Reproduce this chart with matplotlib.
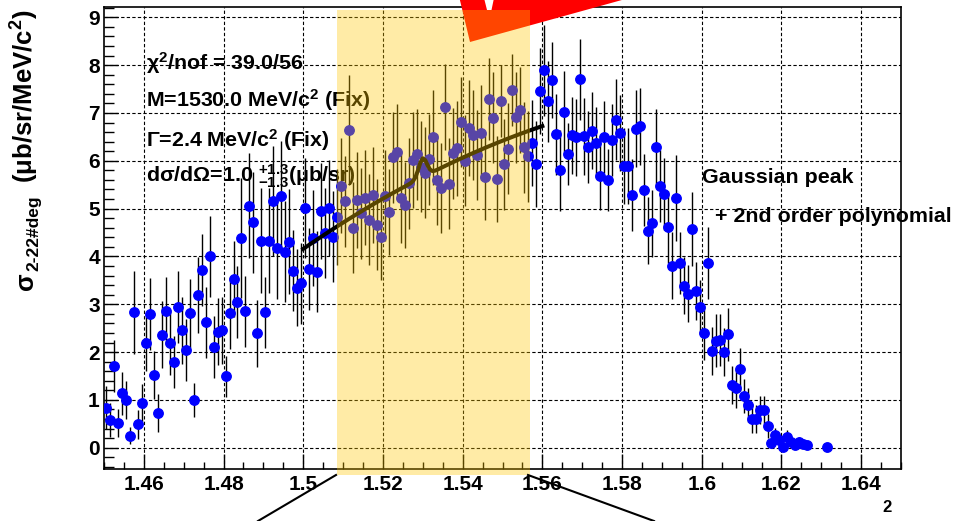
import numpy as np
import matplotlib.pyplot as plt
import matplotlib.transforms as mtransforms
from matplotlib.lines import Line2D
from matplotlib.patches import Polygon, Rectangle
from matplotlib.ticker import FormatStrFormatter, MultipleLocator

plt.rcParams["font.family"] = ["Liberation Sans", "DejaVu Sans"]
plt.rcParams["font.weight"] = "bold"
plt.rcParams["mathtext.fontset"] = "custom"
plt.rcParams["mathtext.rm"] = "Liberation Sans:bold"
plt.rcParams["mathtext.bf"] = "Liberation Sans:bold"
plt.rcParams["mathtext.it"] = "Liberation Sans:bold"
plt.rcParams["mathtext.default"] = "rm"

# histogram binning (GeV/c^2)
BIN_LOW = 1.450
BIN_WIDTH = 0.001

# d2sigma/dOmega dM per bin (ub/sr/MeV/c^2); nan = empty bin
sigma = [
    0.84, 0.58, 1.71, 0.52, 1.14, 1.00, 0.25, 2.83, 0.49, 0.94,
    2.20, 2.80, 1.52, 0.72, 2.36, 2.86, 2.18, 1.79, 2.94, 2.46,
    2.04, 2.81, 1.00, 3.19, 3.72, 2.62, 4.00, 2.10, 2.43, 2.46,
    1.49, 2.81, 3.53, 3.04, 4.38, 2.85, 5.06, 4.71, 2.39, 4.33,
    2.83, 4.33, 5.16, 4.17, 5.27, 4.10, 4.31, 3.70, 3.35, 3.44,
    5.01, 3.74, 4.38, 3.68, 4.95, 4.49, 5.01, 4.41, 4.83, 5.48,
    5.15, 6.64, 4.60, 5.18, 4.90, 5.23, 4.77, 5.29, 4.66, 4.41,
    5.27, 4.92, 6.07, 6.19, 5.23, 5.08, 5.53, 6.02, 6.14, 5.88,
    5.75, 6.03, 6.49, 5.60, 5.43, 7.12, 5.52, 6.16, 6.26, 6.81,
    6.00, 6.68, 6.54, 6.12, 6.59, 5.67, 7.29, 6.90, 5.61, 7.25,
    5.93, 6.25, 7.48, 6.91, 7.06, 6.28, 6.09, 6.37, 5.94, 7.46,
    7.89, 7.24, 7.69, 6.55, 5.80, 7.03, 6.15, 6.53, 6.49, 7.70,
    6.51, 6.29, 6.63, 6.38, 5.68, 6.49, 5.60, 6.44, 6.86, 6.58,
    5.89, 5.89, 5.29, 6.67, 6.72, 5.39, 4.54, 4.69, 6.28, 5.47,
    5.31, 4.62, 3.81, 5.22, 3.87, 3.39, 3.22, 4.57, 3.28, 2.95,
    2.39, 3.87, 2.02, 2.24, 2.25, 2.01, 2.37, 1.31, 1.24, 1.64,
    1.08, 0.89, 0.61, 0.60, 0.79, 0.79, 0.46, 0.09, 0.27, 0.16,
    0.01, 0.22, 0.13, 0.06, 0.13, 0.07, 0.05, np.nan, np.nan, np.nan,
    np.nan, 0.01,
]
sigma_err = [
    0.45, 0.35, 0.55, 0.30, 0.45, 0.40, 0.18, 0.87, 0.30, 0.40,
    0.60, 0.75, 0.50, 0.40, 0.70, 0.72, 0.65, 0.55, 0.75, 0.70,
    0.65, 0.72, 0.35, 0.80, 0.75, 0.75, 0.84, 0.65, 0.70, 0.70,
    0.42, 0.75, 0.80, 0.75, 1.25, 0.75, 1.10, 1.05, 0.70, 1.10,
    0.75, 1.10, 1.15, 1.05, 1.15, 1.05, 1.10, 0.85, 0.80, 0.85,
    1.05, 0.85, 1.00, 0.85, 1.00, 0.95, 1.00, 0.95, 1.00, 1.00,
    0.95, 1.15, 0.95, 1.00, 0.95, 1.00, 0.95, 1.00, 0.95, 0.90,
    0.95, 0.90, 0.95, 1.00, 0.95, 0.90, 0.95, 1.00, 0.95, 0.95,
    0.95, 0.95, 1.00, 0.95, 0.95, 0.90, 0.95, 0.95, 1.00, 0.95,
    0.95, 1.00, 0.95, 0.95, 1.00, 0.90, 0.85, 0.95, 0.90, 0.75,
    0.95, 0.95, 0.75, 0.95, 0.90, 0.95, 0.95, 0.90, 0.90, 0.90,
    0.95, 0.85, 0.80, 0.85, 0.85, 0.85, 0.65, 0.80, 0.80, 0.85,
    0.80, 0.75, 0.80, 0.75, 0.70, 0.75, 0.65, 0.75, 0.85, 0.80,
    0.80, 0.80, 0.75, 0.80, 0.80, 0.75, 0.70, 0.70, 0.80, 0.75,
    0.75, 0.75, 0.70, 0.90, 0.65, 0.60, 0.60, 0.77, 0.60, 0.55,
    0.55, 0.75, 0.50, 0.55, 0.55, 0.50, 0.55, 0.40, 0.40, 0.45,
    0.35, 0.35, 0.30, 0.30, 0.30, 0.30, 0.25, 0.10, 0.15, 0.10,
    0.05, 0.15, 0.10, 0.05, 0.10, 0.05, 0.05, np.nan, np.nan, np.nan,
    np.nan, 0.05,
]

# fit: gaussian peak (fixed M, Gamma) + 2nd order polynomial in (m - M)
FIT_RANGE = (1.500, 1.560)
PEAK_MASS = 1.5300
PEAK_WIDTH_MEV = 2.4
PEAK_YIELD = 1.0
POLY_COEF = [5.66, 42.8, -243.0]

# shaded window and panel texts
BAND = (1.5085, 1.5569)
fit_lines = [
    r"$\chi^{2}$/nof = 39.0/56",
    r"M=1530.0 MeV/c$^{2}$ (Fix)",
    r"Γ=2.4 MeV/c$^{2}$ (Fix)",
    r"dσ/dΩ=1.0 $^{+1.3}_{-1.3}$(μb/sr)",
]

x = BIN_LOW + BIN_WIDTH * (np.arange(len(sigma)) + 0.5)
y = np.array(sigma)
yerr = np.array(sigma_err)

m_fit = np.linspace(FIT_RANGE[0], FIT_RANGE[1], 101)
s_mev = PEAK_WIDTH_MEV / 2.3548
d = m_fit - PEAK_MASS
y_fit = (POLY_COEF[0] + POLY_COEF[1] * d + POLY_COEF[2] * d ** 2
         + PEAK_YIELD / (np.sqrt(2 * np.pi) * s_mev) * np.exp(-0.5 * (d * 1000 / s_mev) ** 2))

W, H = 955, 521
fig = plt.figure(figsize=(W / 100, H / 100), dpi=100)
ax = fig.add_axes([104 / W, 52 / H, 797 / W, 462 / H])

ax.errorbar(x, y, yerr=yerr, fmt="o", ms=6.8, color="#0000ff", mec="#0000ff",
            ecolor="black", elinewidth=1.0, capsize=0, zorder=3)
ax.plot(m_fit, y_fit, color="black", lw=2.9, zorder=4)

ax.set_xlim(1.45, 1.65)
ax.set_ylim(-0.445, 9.215)
ax.set_xticks(np.arange(1.46, 1.6401, 0.02))
ax.set_yticks(np.arange(0, 10, 1))
ax.xaxis.set_minor_locator(MultipleLocator(0.005))
ax.yaxis.set_minor_locator(MultipleLocator(0.2))
ax.xaxis.set_major_formatter(FormatStrFormatter("%g"))
ax.tick_params(axis="x", which="major", direction="in", length=10.5, width=1, labelsize=15, pad=4)
ax.tick_params(axis="x", which="minor", direction="in", length=5, width=1)
ax.tick_params(axis="y", which="major", direction="in", length=10, width=1, labelsize=15, pad=3)
ax.tick_params(axis="y", which="minor", direction="in", length=7.5, width=1)
ax.grid(True, which="major", color="black", lw=0.8, linestyle=(0, (3, 2)))
ax.set_axisbelow(True)
for sp in ax.spines.values():
    sp.set_linewidth(1.2)

for txt, yy in zip(fit_lines, [0.8636, 0.7842, 0.6976, 0.6197]):
    ax.text(0.0527, yy, txt, transform=ax.transAxes, fontsize=15.4, va="baseline", zorder=5)
ax.text(0.750, 0.6184, "Gaussian peak", transform=ax.transAxes, fontsize=15.4, va="baseline")
ax.text(0.7666, 0.5353, "+ 2nd order polynomial", transform=ax.transAxes, fontsize=15.4, va="baseline")

# y axis title, built from three pieces (mathtext has no '#')
ylab_kw = dict(rotation=90, rotation_mode="anchor", ha="right", va="baseline")
fig.text(34 / W, 1 - 10 / H, r"(μb/sr/MeV/c$^{2}$)", fontsize=18.5, **ylab_kw)
fig.text(38.5 / W, 1 - 195 / H, "2-22#deg", fontsize=12.5, **ylab_kw)
fig.text(33 / W, 1 - 272 / H, "σ", fontsize=18.5, **ylab_kw)
fig.text(887 / W, 1 - 508 / H, "2", fontsize=12, ha="center", va="center")


# red marker cut off at the top of the slide
def px(points):
    return [(a / W, 1 - b / H) for a, b in points]


fig.add_artist(Polygon(px([(458.7, -5), (470, 42), (640, -5)]), closed=True,
                       facecolor="#ff0000", edgecolor="none", transform=fig.transFigure, zorder=2))
fig.add_artist(Polygon(px([(484, -2), (494, -2), (491.5, 10), (487, 10)]), closed=True,
                       facecolor="white", edgecolor="none", transform=fig.transFigure, zorder=2.1))

# highlighted mass window
blend = mtransforms.blended_transform_factory(ax.transData, fig.transFigure)
fig.add_artist(Rectangle((BAND[0], 1 - 475 / H), BAND[1] - BAND[0], (475 - 10) / H,
                         facecolor=(1.0, 0.78, 0.0), alpha=0.35, edgecolor="none",
                         transform=blend, zorder=3))

# zoom lines toward the next panel
fig.add_artist(Line2D([336 / W, 258 / W], [1 - 475 / H, 0], color="black", lw=1.5,
                      transform=fig.transFigure, zorder=4))
fig.add_artist(Line2D([528 / W, 654 / W], [1 - 475 / H, 0], color="black", lw=1.5,
                      transform=fig.transFigure, zorder=4))

fig.savefig("out.png", dpi=100)
